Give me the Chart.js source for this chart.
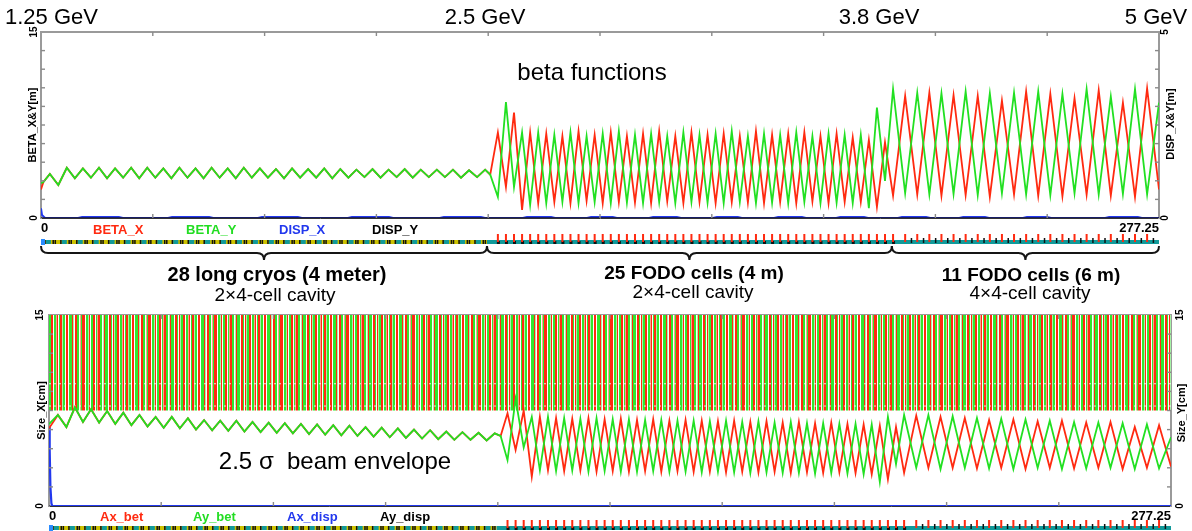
<!DOCTYPE html>
<html>
<head>
<meta charset="utf-8">
<script src="https://cdn.jsdelivr.net/npm/chart.js@4.4.1/dist/chart.umd.min.js"></script>
<style>
html, body { margin: 0; padding: 0; background: #fff; }
#wrap { position: relative; width: 1192px; height: 531px; overflow: hidden; font-family: 'Liberation Sans', Arial, sans-serif; color: #000; }
canvas { position: absolute; left: 0; }
#topChart { top: 0; }
#botChart { top: 300px; }
.t { position: absolute; white-space: pre; line-height: 1; transform: translate(-50%, -50%); }
.l { position: absolute; white-space: pre; line-height: 1; transform: translate(0, -50%); font-weight: bold; font-size: 13px; }
.v { position: absolute; white-space: pre; line-height: 1; transform: translate(-50%, -50%) rotate(-90deg); font-weight: bold; font-size: 11px; }
</style>
</head>
<body>
<div id="wrap">
  <canvas id="topChart" width="1192" height="300"></canvas>
  <canvas id="botChart" width="1192" height="231"></canvas>

  <div class="l" style="left:5px;top:17px;font-size:22px;font-weight:normal">1.25 GeV</div>
  <div class="t" style="left:485px;top:17px;font-size:22px">2.5 GeV</div>
  <div class="t" style="left:879px;top:17px;font-size:22px">3.8 GeV</div>
  <div class="t" style="left:1156px;top:17px;font-size:22px">5 GeV</div>
  <div class="t" style="left:592px;top:72px;font-size:24px">beta functions</div>

  <div class="l" style="left:93px;top:229px;color:#ff2a10">BETA_X</div>
  <div class="l" style="left:186px;top:229px;color:#22dd22">BETA_Y</div>
  <div class="l" style="left:279px;top:229px;color:#2238ee">DISP_X</div>
  <div class="l" style="left:372px;top:229px;color:#000">DISP_Y</div>
  <div class="v" style="left:1170px;top:124px">DISP_X&amp;Y[m]</div>

  <div class="t" style="left:277px;top:274px;font-size:20px;font-weight:bold">28 long cryos (4 meter)</div>
  <div class="t" style="left:275px;top:294px;font-size:19px">2×4-cell cavity</div>
  <div class="t" style="left:694px;top:272px;font-size:19px;font-weight:bold">25 FODO cells (4 m)</div>
  <div class="t" style="left:693px;top:291px;font-size:19px">2×4-cell cavity</div>
  <div class="t" style="left:1031px;top:274px;font-size:19px;font-weight:bold">11 FODO cells (6 m)</div>
  <div class="t" style="left:1030px;top:292px;font-size:19px">4×4-cell cavity</div>

  <div class="t" style="left:335px;top:461px;font-size:24px">2.5 σ  beam envelope</div>
  <div class="l" style="left:100px;top:516px;color:#ff2a10">Ax_bet</div>
  <div class="l" style="left:193px;top:516px;color:#22dd22">Ay_bet</div>
  <div class="l" style="left:287px;top:516px;color:#2238ee">Ax_disp</div>
  <div class="l" style="left:380px;top:516px;color:#000">Ay_disp</div>
  <div class="v" style="left:1181px;top:413px">Size_Y[cm]</div>
</div>

<script>
// ---------- lattice (positions in m) ----------
const sMax = 277.25;
const sectionEdges = [0, 110.6, 211.0, 277.25];
const cryoCount = 28;
const cryoPeakFirst = 6.4, cryoPeriod = 3.99;          // beta maxima in the cryo section
const fodo4First = 113.3, fodo4Step = 2.0, fodo4Count = 50; // quads, 4 m FODO cells
const fodo6First = 214.3, fodo6Step = 3.0, fodo6Count = 21; // quads, 6 m FODO cells
const xTickValues = [0, 27.725, 55.45, 83.175, 110.9, 138.625, 166.35, 194.075, 221.8, 249.525, 277.25];

// ---------- beta functions (m) ----------
const betaEntryS = [0, 0.6, 2.2, 4.3];
const betaXEntry = [2.3, 2.9, 3.55, 2.66];
const betaYEntry = [2.8, 2.9, 3.55, 2.66];
const cryoBetaPeak = [4.05, 4.0, 4.05, 4.0, 4.05, 4.05, 4.0, 4.05, 4.0, 4.05, 4.0, 4.05, 4.0, 3.95, 4.0, 3.95, 4.0, 3.95, 3.9, 3.95, 3.9, 3.95, 3.9, 3.9, 3.9, 3.85, 3.9];
const cryoBetaTrough = [3.2, 3.25, 3.2, 3.25, 3.2, 3.25, 3.2, 3.25, 3.2, 3.25, 3.2, 3.25, 3.25, 3.2, 3.25, 3.25, 3.2, 3.25, 3.3, 3.25, 3.3, 3.25, 3.3, 3.3, 3.25, 3.3];
const cryoBetaExitS = 111.4, cryoBetaExit = 3.5;
const fodo4BetaXPeak = [6.9, 8.5, 6.9, 6.8, 6.6, 7.0, 6.7, 6.9, 6.6, 6.8, 7.0, 6.6, 6.9, 6.7, 6.8, 6.6, 7.0, 6.7, 6.8, 6.9, 6.6, 6.8, 6.5, 6.3, 6.1];
const fodo4BetaXTrough = [2.5, 0.65, 1.2, 1.3, 1.2, 1.4, 1.2, 1.3, 1.25, 1.2, 1.35, 1.2, 1.3, 1.2, 1.3, 1.25, 1.2, 1.3, 1.2, 1.35, 1.2, 1.3, 1.3, 0.9, 1.8];
const fodo4BetaYPeak = [9.35, 6.9, 6.9, 6.7, 6.9, 6.6, 6.8, 7.0, 6.7, 6.8, 6.6, 6.9, 6.7, 6.8, 7.0, 6.6, 6.8, 6.7, 6.9, 6.6, 6.8, 6.7, 6.7, 8.9, 10.4];
const fodo4BetaYTrough = [1.7, 2.5, 1.05, 1.2, 1.3, 1.2, 1.3, 1.2, 1.25, 1.2, 1.3, 1.2, 1.3, 1.25, 1.2, 1.3, 1.2, 1.25, 1.2, 1.3, 1.2, 1.25, 1.2, 0.8, 3.0];
const fodo6BetaXPeak = [9.84, 10.1, 9.9, 9.84, 9.46, 10.2, 10.0, 9.65, 10.3, 9.3, 10.46];
const fodo6BetaXTrough = [1.9, 1.8, 1.85, 1.7, 1.9, 1.8, 1.75, 1.9, 1.8, 1.7];
const fodo6BetaYPeak = [10.1, 10.05, 10.2, 10.05, 10.1, 10.2, 10.0, 10.4, 9.8, 10.4];
const fodo6BetaYTrough = [2.0, 1.9, 1.95, 1.85, 2.0, 1.9, 1.85, 2.0, 1.9, 1.95, 1.9];
const betaXEnd = 2.3, betaYEnd = 9.3;

// ---------- dispersion (m) ----------
const dispXEntryS = [0, 0.25, 1.0];
const dispXEntry = [0.26, 0.08, 0];
const dispBumpStart = [9.2, 31.5, 53.8, 76.1, 98.9, 119.5, 135.4, 150.8, 166.6, 181.8, 197.2, 212.5, 227.7, 243.5, 263.9];
const dispBumpEnd = [20.3, 42.7, 64.7, 87.3, 110.1, 127.5, 142.8, 158.7, 173.8, 189.7, 205.1, 220.5, 235.1, 250.5, 273.0];
const dispBumpHeight = 0.025;

// ---------- 2.5 sigma envelope (cm) ----------
const envEntryS = [0, 2.2, 4.3];
const envXEntry = [6.1, 7.15, 6.2];
const envYEntry = [6.44, 7.15, 6.2];
const cryoEnvPeak = [7.75, 7.6, 7.46, 7.33, 7.15, 7.0, 7.0, 6.9, 6.75, 6.7, 6.7, 6.6, 6.55, 6.5, 6.45, 6.4, 6.35, 6.3, 6.2, 6.15, 6.1, 6.0, 5.95, 5.85, 5.8, 5.75, 5.7];
const cryoEnvTrough = [6.6, 6.55, 6.45, 6.35, 6.25, 6.15, 6.1, 6.0, 5.95, 5.9, 5.85, 5.8, 5.75, 5.7, 5.65, 5.6, 5.55, 5.5, 5.45, 5.4, 5.35, 5.3, 5.25, 5.2, 5.2, 5.15];
const cryoEnvExitS = 111.6, cryoEnvExit = 5.5;
const fodo4EnvXPeak = [7.28, 7.5, 7.0, 6.9, 6.85, 6.9, 6.8, 6.85, 6.75, 6.8, 6.7, 6.75, 6.7, 6.65, 6.7, 6.6, 6.65, 6.55, 6.6, 6.5, 6.55, 6.45, 6.4, 6.3, 6.2];
const fodo4EnvXTrough = [4.4, 2.3, 2.8, 2.75, 2.8, 2.7, 2.75, 2.7, 2.75, 2.7, 2.75, 2.7, 2.7, 2.65, 2.7, 2.65, 2.7, 2.6, 2.65, 2.6, 2.65, 2.6, 2.5, 2.1, 2.6];
const fodo4EnvYPeak = [8.4, 7.0, 7.0, 6.9, 6.85, 6.9, 6.8, 6.8, 6.75, 6.75, 6.7, 6.7, 6.65, 6.7, 6.6, 6.65, 6.55, 6.6, 6.5, 6.5, 6.45, 6.45, 6.4, 7.0, 7.15];
const fodo4EnvYTrough = [3.6, 4.6, 2.8, 2.75, 2.8, 2.7, 2.75, 2.7, 2.7, 2.75, 2.7, 2.7, 2.65, 2.7, 2.65, 2.6, 2.65, 2.6, 2.6, 2.55, 2.6, 2.55, 2.5, 1.9, 3.3];
const fodo6EnvXPeak = [7.1, 7.0, 6.9, 6.75, 6.8, 6.65, 6.7, 6.55, 6.6, 6.2, 6.35];
const fodo6EnvXTrough = [3.0, 3.0, 2.95, 3.0, 2.9, 3.0, 2.95, 3.0, 2.9, 3.0];
const fodo6EnvYPeak = [7.15, 7.05, 6.9, 6.85, 6.8, 6.7, 6.6, 6.55, 6.5, 6.4];
const fodo6EnvYTrough = [3.0, 2.9, 3.0, 2.95, 2.9, 3.0, 2.9, 2.95, 3.0, 2.9, 2.95];
const envXEnd = 3.1, envYEnd = 5.4;
const envDispXEntryS = [0, 0.17, 0.35, 0.6, 0.8];
const envDispXEntry = [6.2, 4.4, 1.5, 0.2, 0];
const stripeBand = [7.5, 15];
const stripeGuides = [9.6, 7.85];

// ---------- colours ----------
const RED = '#ff2a10', GREEN = '#22e022', BLUE = '#2238ee', AXIS = '#9a9a9a';

// ---------- helpers ----------
function quadPositions(first, step, count) {
  const out = [];
  for (let k = 0; k < count; k++) out.push(first + k * step);
  return out;
}
const fodo4Quads = quadPositions(fodo4First, fodo4Step, fodo4Count);
const fodo6Quads = quadPositions(fodo6First, fodo6Step, fodo6Count);

// Build a trajectory through the lattice from its extrema.
function trace(entryS, entryV, cryoPeak, cryoTrough, exitS, exitV, f4Even, f4Odd, f6Even, f6Odd, endV) {
  const pts = entryS.map((s, i) => ({ x: s, y: entryV[i] }));
  cryoPeak.forEach((v, i) => {
    const s = cryoPeakFirst + i * cryoPeriod;
    pts.push({ x: s, y: v });
    if (i < cryoTrough.length) pts.push({ x: s + cryoPeriod / 2, y: cryoTrough[i] });
  });
  pts.push({ x: exitS, y: exitV });
  fodo4Quads.forEach((s, k) => pts.push({ x: s, y: k % 2 === 0 ? f4Even[k / 2] : f4Odd[(k - 1) / 2] }));
  fodo6Quads.forEach((s, k) => pts.push({ x: s, y: k % 2 === 0 ? f6Even[k / 2] : f6Odd[(k - 1) / 2] }));
  pts.push({ x: sMax, y: endV });
  return pts;
}

const betaX = trace(betaEntryS, betaXEntry, cryoBetaPeak, cryoBetaTrough, cryoBetaExitS, cryoBetaExit,
  fodo4BetaXPeak, fodo4BetaXTrough, fodo6BetaXPeak, fodo6BetaXTrough, betaXEnd);
const betaY = trace(betaEntryS, betaYEntry, cryoBetaPeak, cryoBetaTrough, cryoBetaExitS, cryoBetaExit,
  fodo4BetaYTrough, fodo4BetaYPeak, fodo6BetaYTrough, fodo6BetaYPeak, betaYEnd);
const envX = trace(envEntryS, envXEntry, cryoEnvPeak, cryoEnvTrough, cryoEnvExitS, cryoEnvExit,
  fodo4EnvXPeak, fodo4EnvXTrough, fodo6EnvXPeak, fodo6EnvXTrough, envXEnd);
const envY = trace(envEntryS, envYEntry, cryoEnvPeak, cryoEnvTrough, cryoEnvExitS, cryoEnvExit,
  fodo4EnvYTrough, fodo4EnvYPeak, fodo6EnvYTrough, fodo6EnvYPeak, envYEnd);

const dispX = dispXEntryS.map((s, i) => ({ x: s, y: dispXEntry[i] }));
dispBumpStart.forEach((a, i) => {
  const b = dispBumpEnd[i];
  dispX.push({ x: a, y: 0 }, { x: a + 1.0, y: dispBumpHeight }, { x: b - 1.0, y: dispBumpHeight }, { x: b, y: 0 });
});
dispX.push({ x: sMax, y: 0 });
const zeroLine = [{ x: 0, y: 0 }, { x: sMax, y: 0 }];
const envDispX = envDispXEntryS.map((s, i) => ({ x: s, y: envDispXEntry[i] })).concat([{ x: sMax, y: 0 }]);

// ---------- plugins ----------
const insideTicks = {
  id: 'insideTicks',
  afterDatasetsDraw(chart, args, o) {
    const { ctx, chartArea: a, scales } = chart;
    ctx.save();
    ctx.strokeStyle = o.color; ctx.lineWidth = 1.4;
    const seg = (x1, y1, x2, y2) => { ctx.beginPath(); ctx.moveTo(x1, y1); ctx.lineTo(x2, y2); ctx.stroke(); };
    scales.x.ticks.forEach((t, i, arr) => {
      if (i === 0 || i === arr.length - 1) return;
      const p = scales.x.getPixelForValue(t.value);
      seg(p, a.bottom, p, a.bottom - o.len);
      seg(p, a.top, p, a.top + o.len);
    });
    scales.y.ticks.forEach((t, i, arr) => {
      if (i === 0 || i === arr.length - 1) return;
      const p = scales.y.getPixelForValue(t.value);
      seg(a.left, p, a.left + o.len, p);
    });
    scales.y1.ticks.forEach((t, i, arr) => {
      if (i === 0 || i === arr.length - 1) return;
      const p = scales.y1.getPixelForValue(t.value);
      seg(a.right, p, a.right - o.len, p);
    });
    ctx.restore();
  }
};

const latticeStrip = {
  id: 'latticeStrip',
  afterDraw(chart, args, o) {
    const ctx = chart.ctx, xs = chart.scales.x, y = o.y;
    const px = s => xs.getPixelForValue(s);
    ctx.save();
    // cryomodule section
    ctx.fillStyle = '#cdc200';
    ctx.fillRect(px(sectionEdges[0]), y - 2, px(sectionEdges[1]) - px(sectionEdges[0]), 4);
    const cryoLen = (sectionEdges[1] - sectionEdges[0]) / cryoCount;
    for (let i = 0; i < cryoCount; i++) {
      const s0 = sectionEdges[0] + i * cryoLen;
      ctx.fillStyle = '#119a9a';
      ctx.fillRect(px(s0 + 0.3 * cryoLen), y - 2, px(s0 + 0.62 * cryoLen) - px(s0 + 0.3 * cryoLen), 4);
      ctx.fillStyle = '#111';
      ctx.fillRect(px(s0 + 0.2 * cryoLen), y - 2, 1.5, 4);
      ctx.fillRect(px(s0 + 0.72 * cryoLen), y - 2, 1.5, 4);
      ctx.fillRect(px(s0 + 0.85 * cryoLen), y - 2, 1.5, 4);
    }
    // FODO sections
    ctx.fillStyle = '#119a9a';
    ctx.fillRect(px(sectionEdges[1]), y - 2, px(sMax) - px(sectionEdges[1]), 4);
    ctx.fillStyle = '#111';
    fodo4Quads.forEach(s => ctx.fillRect(px(s) - 1, y - 1, 3, 3));
    fodo6Quads.forEach(s => { if (s + fodo6Step / 2 < sMax) ctx.fillRect(px(s + fodo6Step / 2) - 0.5, y - 4, 1.5, 5); });
    ctx.fillStyle = RED;
    fodo4Quads.concat(fodo6Quads).forEach(s => ctx.fillRect(px(s) - 1, y - 8, 2, 8));
    // injection marker
    ctx.fillStyle = '#2a8cff';
    ctx.fillRect(px(0), y - 3, 4, 6);
    ctx.restore();
  }
};

const braces = {
  id: 'braces',
  afterDraw(chart, args, o) {
    const ctx = chart.ctx, xs = chart.scales.x;
    ctx.save();
    ctx.strokeStyle = '#151515'; ctx.lineWidth = 2;
    for (let i = 0; i < sectionEdges.length - 1; i++) {
      const a = xs.getPixelForValue(sectionEdges[i]), b = xs.getPixelForValue(sectionEdges[i + 1]), m = (a + b) / 2;
      const y0 = o.y, y1 = o.y + 7, y2 = o.y + 14, r = 7;
      ctx.beginPath();
      ctx.moveTo(a, y0);
      ctx.quadraticCurveTo(a, y1, a + r, y1);
      ctx.lineTo(m - r, y1);
      ctx.quadraticCurveTo(m, y1, m, y2);
      ctx.quadraticCurveTo(m, y1, m + r, y1);
      ctx.lineTo(b - r, y1);
      ctx.quadraticCurveTo(b, y1, b, y0);
      ctx.stroke();
    }
    ctx.restore();
  }
};

// vertical red/green striping used to fill the upper band of the envelope panel
function stripeFill() {
  const seq = [['R',2],['W',1],['G',3],['R',1],['g',1],['W',1],['R',2],['G',2],['W',1],['r',1],['G',1],['R',3],['W',1],['G',2],['g',1],
    ['R',1],['W',1],['G',2],['R',2],['W',1],['G',1],['r',1],['R',2],['G',2],['W',1],['g',1],['R',1],['G',3],['W',1],['R',2],
    ['G',1],['W',1],['R',1],['g',1],['G',2],['R',2],['W',1],['G',2],['r',1],['R',1],['W',1],['G',1],['R',2],['g',1],['G',2],['W',1]];
  const col = { R: RED, r: '#ff9c8c', G: '#2ee82e', g: '#a6f3a6', W: '#ffffff' };
  const w = seq.reduce((t, e) => t + e[1], 0);
  const c = document.createElement('canvas'); c.width = w; c.height = 4;
  const cx = c.getContext('2d'); let x = 0;
  seq.forEach(([k, n]) => { cx.fillStyle = col[k]; cx.fillRect(x, 0, n, 4); x += n; });
  return cx.createPattern(c, 'repeat');
}

Chart.defaults.font.family = "'Liberation Sans', Arial, sans-serif";
Chart.defaults.color = '#000';

const line = (label, data, color, order, extra) => Object.assign({
  label, data, borderColor: color, backgroundColor: color, borderWidth: 1.8,
  pointRadius: 0, tension: 0, fill: false, order
}, extra || {});

function scalesFor(cfg) {
  const endLabel = (lo, hi) => v => (Math.abs(v - lo) < 1e-9 || Math.abs(v - hi) < 1e-9) ? String(v) : '';
  return {
    x: {
      type: 'linear', min: 0, max: sMax, position: 'bottom',
      afterBuildTicks: s => { s.ticks = xTickValues.map(v => ({ value: v })); },
      afterFit: s => { s.height = cfg.xHeight; },
      grid: { display: false, drawTicks: false },
      border: { display: true, color: '#333', width: 1 },
      ticks: { autoSkip: false, maxRotation: 0, align: 'inner', padding: 3, font: { size: 13, weight: 'bold' },
        callback: v => v === 0 ? '0' : (Math.abs(v - sMax) < 1e-9 ? '277.25' : '') }
    },
    x2: {
      type: 'linear', min: 0, max: sMax, position: 'top',
      afterFit: s => { s.height = cfg.top; },
      grid: { display: false, drawTicks: false },
      border: { display: true, color: AXIS, width: 2 },
      ticks: { display: false }
    },
    y: {
      min: 0, max: cfg.yMax, position: 'left',
      afterFit: s => { s.width = cfg.left; },
      grid: { display: false, drawTicks: false },
      border: { display: true, color: AXIS, width: 2 },
      ticks: { stepSize: cfg.yMax / 10, autoSkip: false, minRotation: 90, maxRotation: 90, crossAlign: 'center',
        padding: cfg.lPad, font: { size: 10, weight: 'bold' }, callback: endLabel(0, cfg.yMax) },
      title: { display: true, text: cfg.yTitle, font: { size: 11, weight: 'bold' }, padding: { top: cfg.titlePad, bottom: 0 } }
    },
    y1: {
      min: 0, max: cfg.y1Max, position: 'right',
      afterFit: s => { s.width = cfg.right; },
      grid: { display: false, drawTicks: false },
      border: { display: true, color: AXIS, width: 2 },
      ticks: { stepSize: cfg.y1Max / 10, autoSkip: false, minRotation: 90, maxRotation: 90, crossAlign: 'center',
        padding: cfg.rPad, font: { size: 10, weight: 'bold' }, callback: endLabel(0, cfg.y1Max) }
    }
  };
}

const baseOptions = (cfg, pluginOpts) => ({
  responsive: false, animation: false, events: [], devicePixelRatio: 1,
  layout: { padding: 0 },
  plugins: Object.assign({ legend: { display: false }, tooltip: { enabled: false } }, pluginOpts),
  scales: scalesFor(cfg)
});

// ---------- beta functions panel ----------
new Chart(document.getElementById('topChart'), {
  type: 'line',
  data: {
    datasets: [
      line('BETA_Y', betaY, GREEN, 1),
      line('BETA_X', betaX, RED, 2),
      line('DISP_Y', zeroLine, '#14143a', 3, { yAxisID: 'y1', borderWidth: 1.6 }),
      line('DISP_X', dispX, BLUE, 4, { yAxisID: 'y1', borderWidth: 2 })
    ]
  },
  options: baseOptions(
    { xHeight: 82, top: 32, left: 41, right: 33, yMax: 15, y1Max: 5, lPad: 1, rPad: 3, titlePad: 26.4, yTitle: 'BETA_X&Y[m]' },
    { insideTicks: { len: 4, color: '#8a8a8a' }, latticeStrip: { y: 242 }, braces: { y: 246 } }
  ),
  plugins: [insideTicks, latticeStrip, braces]
});

// ---------- beam envelope panel ----------
const bandData = [{ x: 0, y: stripeBand[1] }, { x: sMax, y: stripeBand[1] }];
new Chart(document.getElementById('botChart'), {
  type: 'line',
  data: {
    datasets: [
      line('Ay_bet', envY, GREEN, 1, { yAxisID: 'y1' }),
      line('Ax_bet', envX, RED, 2),
      line('Ax_disp', envDispX, BLUE, 3, { borderWidth: 2.2 }),
      line('Ay_disp', zeroLine, '#14143a', 4, { yAxisID: 'y1', borderWidth: 1.2 }),
      line('guide', [{ x: 0, y: stripeGuides[0] }, { x: sMax, y: stripeGuides[0] }], 'rgba(255,255,255,0.85)', 8, { borderWidth: 1, borderDash: [2, 3] }),
      line('guide', [{ x: 0, y: stripeGuides[1] }, { x: sMax, y: stripeGuides[1] }], 'rgba(255,255,255,0.85)', 8, { borderWidth: 1, borderDash: [2, 3] }),
      line('aperture', bandData, 'rgba(0,0,0,0)', 10, { borderWidth: 0, fill: { value: stripeBand[0] }, backgroundColor: stripeFill() })
    ]
  },
  options: baseOptions(
    { xHeight: 25, top: 15, left: 49, right: 21, yMax: 15, y1Max: 15, lPad: 3.5, rPad: 3.5, titlePad: 35.4, yTitle: 'Size_X[cm]' },
    { insideTicks: { len: 4, color: '#8a8a8a' }, latticeStrip: { y: 228 } }
  ),
  plugins: [insideTicks, latticeStrip]
});
</script>
</body>
</html>
